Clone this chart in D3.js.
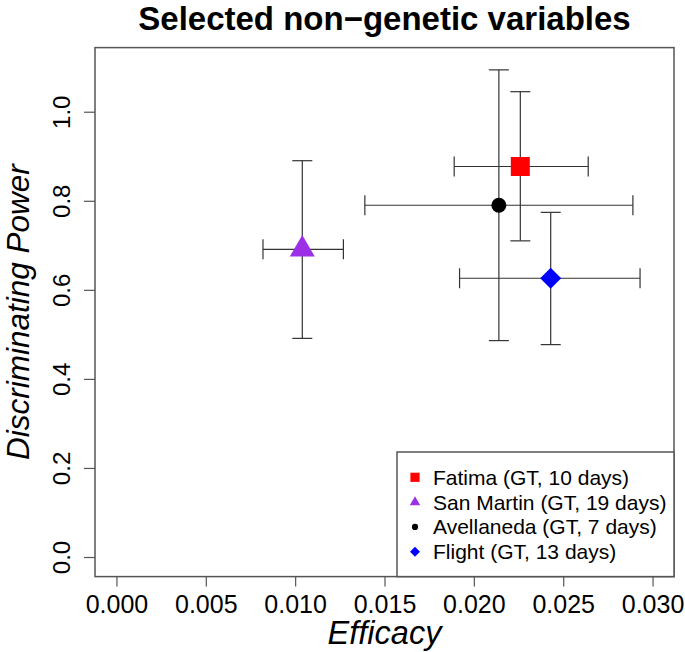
<!DOCTYPE html>
<html>
<head>
<meta charset="utf-8">
<script src="https://cdn.jsdelivr.net/npm/d3@7"></script>
<style>
  html, body { margin: 0; padding: 0; background: #fff; }
  svg { display: block; font-family: "Liberation Sans", Arial, Helvetica, sans-serif; }
</style>
</head>
<body>
<svg id="chart" width="685" height="652"></svg>
<script>
// ---- data ----
const names   = ["Fatima (GT, 10 days)", "San Martin (GT, 19 days)", "Avellaneda (GT, 7 days)", "Flight (GT, 13 days)"];
const colors  = ["#FF0000", "#9B30E6", "#000000", "#0000FF"];
const shapes  = ["square", "triangle", "circle", "diamond"];
const efficacy    = [0.0226, 0.0104, 0.0214, 0.0243];
const efficacyLo  = [0.0189, 0.0082, 0.0139, 0.0192];
const efficacyHi  = [0.0264, 0.0127, 0.0289, 0.0293];
const power       = [0.877, 0.691, 0.790, 0.626];
const powerLo     = [0.710, 0.491, 0.486, 0.477];
const powerHi     = [1.045, 0.890, 1.094, 0.774];
const xTicks = [0.000, 0.005, 0.010, 0.015, 0.020, 0.025, 0.030];
const yTicks = [0.0, 0.2, 0.4, 0.6, 0.8, 1.0];
const xLim = [0, 0.03];
const yLim = [0, 1.1];

const points = names.map((n, i) => ({
  name: n, color: colors[i], shape: shapes[i],
  x: efficacy[i], xlo: efficacyLo[i], xhi: efficacyHi[i],
  y: power[i], ylo: powerLo[i], yhi: powerHi[i]
}));

// ---- layout ----
const svg = d3.select("#chart");
const L = 95, R = 674, T = 47.6, B = 576.6;
const xPad = (xLim[1] - xLim[0]) * 0.04, yPad = (yLim[1] - yLim[0]) * 0.04;
const x = d3.scaleLinear().domain([xLim[0] - xPad, xLim[1] + xPad]).range([L, R]);
const y = d3.scaleLinear().domain([yLim[0] - yPad, yLim[1] + yPad]).range([B, T]);

// custom symbols: size = half-extent in px
const sym = {
  square:   { draw(c, s) { c.moveTo(-s, -s); c.lineTo(s, -s); c.lineTo(s, s); c.lineTo(-s, s); c.closePath(); } },
  circle:   { draw(c, s) { c.moveTo(s, 0); c.arc(0, 0, s, 0, 2 * Math.PI); c.closePath(); } },
  // s = half side; equilateral, centroid at origin
  triangle: { draw(c, s) { const h = s * Math.sqrt(3); c.moveTo(0, -2 * h / 3); c.lineTo(s, h / 3); c.lineTo(-s, h / 3); c.closePath(); } },
  diamond:  { draw(c, s) { c.moveTo(0, -s); c.lineTo(s, 0); c.lineTo(0, s); c.lineTo(-s, 0); c.closePath(); } }
};
const bigSize = { square: 9.5, circle: 7.5, triangle: 12.5, diamond: 10.5 };
const smallSize = { square: 4.6, circle: 3.1, triangle: 5.2, diamond: 5.0 };

// ---- title ----
svg.append("text")
  .attr("x", (L + R) / 2).attr("y", 30)
  .attr("text-anchor", "middle")
  .attr("font-size", 33).attr("font-weight", "bold")
  .text("Selected non\u2212genetic variables");

// ---- axes ----
const xAxis = svg.append("g").attr("transform", `translate(0,${B})`)
  .call(d3.axisBottom(x).tickValues(xTicks).tickSize(10).tickFormat(d3.format(".3f")));
xAxis.select(".domain").remove();
xAxis.selectAll(".tick line").attr("stroke", "#555").attr("stroke-width", 1.2);
xAxis.selectAll(".tick text").attr("y", 36).attr("dy", null)
  .attr("font-size", 25).attr("fill", "#000").attr("font-family", null);

const yAxis = svg.append("g").attr("transform", `translate(${L},0)`)
  .call(d3.axisLeft(y).tickValues(yTicks).tickSize(11).tickFormat(d3.format(".1f")));
yAxis.select(".domain").remove();
yAxis.selectAll(".tick line").attr("stroke", "#555").attr("stroke-width", 1.2);
yAxis.selectAll(".tick text")
  .attr("x", null).attr("dy", null)
  .attr("text-anchor", "middle")
  .attr("transform", "translate(-25,0) rotate(-90)")
  .attr("font-size", 24).attr("fill", "#000").attr("font-family", null);

// axis titles
svg.append("text")
  .attr("x", (L + R) / 2).attr("y", 644)
  .attr("text-anchor", "middle")
  .attr("font-size", 32.5).attr("font-style", "italic")
  .text("Efficacy");
svg.append("text")
  .attr("transform", `translate(29,${(T + B) / 2}) rotate(-90)`)
  .attr("text-anchor", "middle")
  .attr("font-size", 31.5).attr("font-style", "italic")
  .text("Discriminating Power");

// ---- error bars ----
const cap = 10;
const eb = svg.append("g").attr("stroke", "#333").attr("stroke-width", 1.2).attr("fill", "none");
points.forEach(p => {
  // horizontal
  eb.append("line").attr("x1", x(p.xlo)).attr("x2", x(p.xhi)).attr("y1", y(p.y)).attr("y2", y(p.y));
  eb.append("line").attr("x1", x(p.xlo)).attr("x2", x(p.xlo)).attr("y1", y(p.y) - cap).attr("y2", y(p.y) + cap);
  eb.append("line").attr("x1", x(p.xhi)).attr("x2", x(p.xhi)).attr("y1", y(p.y) - cap).attr("y2", y(p.y) + cap);
  // vertical
  eb.append("line").attr("x1", x(p.x)).attr("x2", x(p.x)).attr("y1", y(p.ylo)).attr("y2", y(p.yhi));
  eb.append("line").attr("x1", x(p.x) - cap).attr("x2", x(p.x) + cap).attr("y1", y(p.ylo)).attr("y2", y(p.ylo));
  eb.append("line").attr("x1", x(p.x) - cap).attr("x2", x(p.x) + cap).attr("y1", y(p.yhi)).attr("y2", y(p.yhi));
});

// ---- points ----
svg.append("g").selectAll("path").data(points).join("path")
  .attr("transform", d => `translate(${x(d.x)},${y(d.y)})`)
  .attr("d", d => d3.symbol().type(sym[d.shape]).size(bigSize[d.shape])())
  .attr("fill", d => d.color);

// ---- plot box ----
svg.append("rect").attr("x", L).attr("y", T).attr("width", R - L).attr("height", B - T)
  .attr("fill", "none").attr("stroke", "#555").attr("stroke-width", 1.5);

// ---- legend ----
const lgX = 397, lgY = 452;
const lg = svg.append("g");
lg.append("rect").attr("x", lgX).attr("y", lgY).attr("width", R - lgX).attr("height", B - lgY)
  .attr("fill", "#fff").attr("stroke", "#555").attr("stroke-width", 1.5);
const rowY = [477.3, 502.3, 526.9, 551.7];
points.forEach((p, i) => {
  lg.append("path")
    .attr("transform", `translate(415,${rowY[i]})`)
    .attr("d", d3.symbol().type(sym[p.shape]).size(smallSize[p.shape])())
    .attr("fill", p.color);
  lg.append("text").attr("x", 433).attr("y", rowY[i] + 7.4)
    .attr("font-size", 21).text(p.name);
});
</script>
</body>
</html>
